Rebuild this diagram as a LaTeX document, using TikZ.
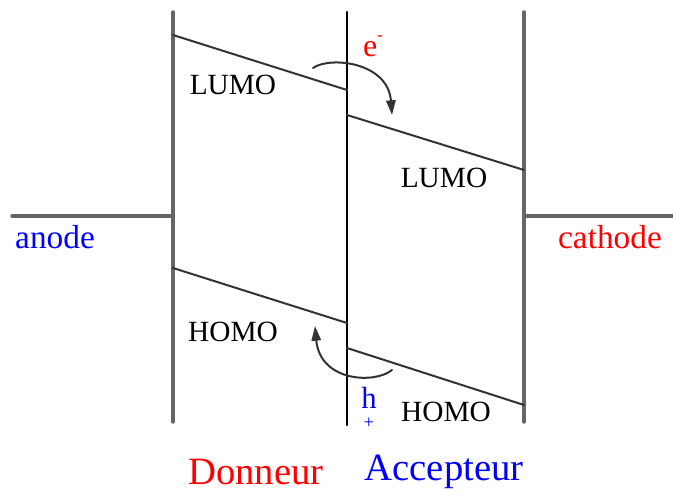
\documentclass[tikz,border=0pt]{standalone}
\usepackage{fontspec}
\setmainfont{Liberation Serif}
\usetikzlibrary{arrows.meta}

\begin{document}
\begin{tikzpicture}[x=0.75pt, y=-0.75pt, line cap=round, line join=round,
  wall/.style={draw=black!60, line width=2.6pt},
  level/.style={draw=black!80, line width=1.5pt},
  hop/.style={draw=black!80, line width=1.5pt, -{Triangle[length=11pt, width=7pt]}},
  lbl/.style={inner sep=0pt, font=\fontsize{22}{24}\selectfont}]

\useasboundingbox (0,0) rectangle (673,493);

% electrodes and interface
\coordinate (dtop) at (173,12);   \coordinate (dbot) at (173,422);
\coordinate (mtop) at (347,12);   \coordinate (mbot) at (347,425);
\coordinate (atop) at (524,12);   \coordinate (abot) at (524,422);
\coordinate (anode) at (12,216);  \coordinate (danode) at (173,216);
\coordinate (cathode) at (673,216); \coordinate (acath) at (524,216);
\draw[wall] (dtop) -- (dbot);
\draw[wall] (atop) -- (abot);
\draw[draw=black, line width=1.7pt] (mtop) -- (mbot);
\draw[wall] (anode) -- (danode);
\draw[wall] (acath) -- (cathode);

% energy levels
\coordinate (dl1) at (173,35);  \coordinate (dl2) at (347,90);
\coordinate (al1) at (347,115); \coordinate (al2) at (524,170);
\coordinate (dh1) at (173,268); \coordinate (dh2) at (347,323);
\coordinate (ah1) at (347,348); \coordinate (ah2) at (524,405);
\draw[level] (dl1) -- (dl2);
\draw[level] (al1) -- (al2);
\draw[level] (dh1) -- (dh2);
\draw[level] (ah1) -- (ah2);

\node[lbl] (lumoD) at (233,85) {LUMO};
\node[lbl] (lumoA) at (444,178) {LUMO};
\node[lbl] (homoD) at (233,332) {HOMO};
\node[lbl] (homoA) at (446,412) {HOMO};

\node[lbl, blue, font=\fontsize{25}{27}\selectfont] (anodeT) at (55,237) {anode};
\node[lbl, red, font=\fontsize{25}{27}\selectfont] (cathT) at (610,237) {cathode};
\node[lbl, red, font=\fontsize{29}{31}\selectfont] (don) at (256,472) {Donneur};
\node[lbl, blue, font=\fontsize{29}{31}\selectfont] (acc) at (444,472) {Accepteur};

% charge transfer
\node[lbl, red, font=\fontsize{24}{26}\selectfont] (elec) at (373,46) {e\raisebox{0.5em}{\fontsize{13}{14}\selectfont -}};
\node[lbl, blue, font=\fontsize{23}{25}\selectfont] (hole) at (369,398) {h};
\node[lbl, blue, font=\fontsize{14}{16}\selectfont] (plus) at (369,423) {+};

\coordinate (e1) at (313,68);  \coordinate (e2) at (392,115);
\coordinate (h1) at (392,370); \coordinate (h2) at (315,326);
\draw[hop] (e1) .. controls (330,56) and (388,62) .. (e2);
\draw[hop] (h1) .. controls (375,384) and (320,382) .. (h2);

\end{tikzpicture}
\end{document}
